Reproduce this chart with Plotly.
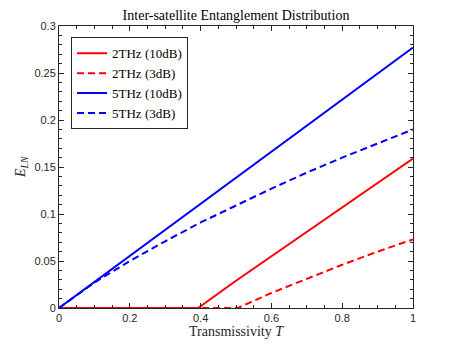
import plotly.graph_objects as go

# transmissivity grid and E_LN values
T_blue = [0, 0.1, 0.2, 0.3, 0.4, 0.5, 0.6, 0.7, 0.8, 0.9, 1.0]
blue_10dB = [0, 0.0277, 0.0554, 0.0831, 0.1108, 0.1385, 0.1662, 0.1939, 0.2216, 0.2493, 0.277]
blue_3dB = [0, 0.027, 0.050, 0.071, 0.091, 0.109, 0.127, 0.144, 0.160, 0.175, 0.190]

T_red10 = [0, 0.393, 0.5, 0.6, 0.7, 0.8, 0.9, 1.0]
red_10dB = [0, 0, 0.029, 0.055, 0.081, 0.107, 0.133, 0.159]

T_red3 = [0, 0.505, 0.6, 0.7, 0.8, 0.9, 1.0]
red_3dB = [0, 0, 0.016, 0.031, 0.046, 0.060, 0.073]

serif = "Liberation Serif"
sans = "Liberation Sans"
axcol = "#262626"
dashed = "7px,4px"

fig = go.Figure()
fig.add_trace(go.Scatter(x=T_red10, y=red_10dB, mode="lines", name="2THz (10dB)",
                         line=dict(color="#ff0000", width=2)))
fig.add_trace(go.Scatter(x=T_red3, y=red_3dB, mode="lines", name="2THz (3dB)",
                         line=dict(color="#ff0000", width=2, dash=dashed)))
fig.add_trace(go.Scatter(x=T_blue, y=blue_10dB, mode="lines", name="5THz (10dB)",
                         line=dict(color="#0000ff", width=2)))
fig.add_trace(go.Scatter(x=T_blue, y=blue_3dB, mode="lines", name="5THz (3dB)",
                         line=dict(color="#0000ff", width=2, dash=dashed)))

axis_common = dict(
    showline=True, linecolor=axcol, linewidth=1, mirror="ticks",
    ticks="inside", ticklen=5, tickcolor=axcol,
    showgrid=False, zeroline=False, automargin=False,
    tickfont=dict(family=sans, size=11, color=axcol),
)

fig.update_xaxes(range=[0, 1], dtick=0.2,
                 minor=dict(dtick=0.05, ticks="inside", ticklen=3, tickcolor=axcol),
                 **axis_common)
fig.update_yaxes(range=[0, 0.3], dtick=0.05,
                 minor=dict(dtick=0.01, ticks="inside", ticklen=3, tickcolor=axcol),
                 **axis_common)

# axis titles as annotations so their spots can be set exactly
fig.add_annotation(text="Transmissivity <i>T</i>", xref="paper", yref="paper",
                   x=0.5, y=-0.085, xanchor="center", yanchor="middle", showarrow=False,
                   font=dict(family=serif, size=14, color=axcol))
fig.add_annotation(text="<i>E</i><sub><i>LN</i></sub>", xref="paper", yref="paper",
                   x=-0.107, y=0.5, xanchor="center", yanchor="middle", showarrow=False,
                   textangle=-90, font=dict(family=serif, size=14, color=axcol))

# page body adds an 8px margin, so the figure is 8px smaller on each side
fig.update_layout(
    width=449, height=338,
    margin=dict(l=51, r=44, t=18, b=38),
    paper_bgcolor="white", plot_bgcolor="white",
    title=dict(text="Inter-satellite Entanglement Distribution",
               x=0.5, xref="paper", xanchor="center", y=0.979, yanchor="middle",
               font=dict(family=serif, size=14, color="black")),
    legend=dict(x=0.034, y=0.96, xanchor="left", yanchor="top",
                bgcolor="white", bordercolor=axcol, borderwidth=1,
                font=dict(family=serif, size=13, color="black"),
                tracegroupgap=0, itemwidth=30),
    showlegend=True,
)

fig.write_html("out.html")
